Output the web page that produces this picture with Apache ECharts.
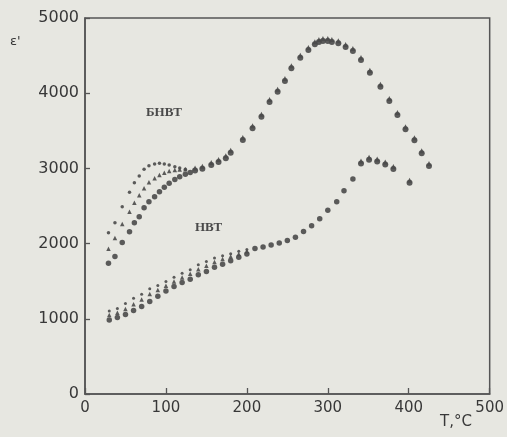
<!DOCTYPE html>
<html>
<head>
<meta charset="utf-8">
<script src="https://cdn.jsdelivr.net/npm/echarts@6/dist/echarts.min.js"></script>
<style>
html,body{margin:0;padding:0;background:#e7e7e1;}
#c{width:507px;height:437px;}
</style>
</head>
<body>
<div id="c"></div>
<script>
// Axis ticks
const xTicks = [0, 100, 200, 300, 400, 500];
const yTicks = [0, 1000, 2000, 3000, 4000, 5000];

// БНВТ branch (upper), three frequencies before merging
const bnvtTopT = [29, 37, 46, 55, 61, 67, 73, 79, 86, 92, 98, 104, 111, 117, 124];
const bnvtTopV = [2145, 2278, 2491, 2682, 2810, 2899, 2988, 3036, 3059, 3068, 3059, 3045, 3023, 3005, 2990];
const bnvtMidT = [29, 37, 46, 55, 61, 67, 73, 79, 86, 92, 98, 104, 111, 117, 124];
const bnvtMidV = [1930, 2075, 2261, 2424, 2544, 2642, 2735, 2815, 2868, 2912, 2943, 2965, 2979, 2986, 2990];
const bnvtLowT = [29, 37, 46, 55, 61, 67, 73, 79, 86, 92, 98, 104, 111, 117, 124, 130];
const bnvtLowV = [1738, 1830, 2015, 2158, 2278, 2358, 2477, 2557, 2624, 2690, 2748, 2801, 2854, 2890, 2921, 2945];
// БНВТ merged
const bnvtMergT = [136, 145, 156, 165, 174, 180, 195, 207, 218, 228, 238, 247, 255, 266, 276, 284, 289, 294, 300, 305, 313, 322, 331, 341, 352, 365, 376, 386, 396, 407, 416, 425];
const bnvtMergV = [2985, 3009, 3060, 3098, 3147, 3222, 3391, 3546, 3701, 3896, 4033, 4176, 4344, 4485, 4588, 4663, 4694, 4707, 4707, 4694, 4677, 4628, 4574, 4455, 4286, 4100, 3910, 3723, 3533, 3387, 3214, 3045];

// НВТ branch (lower), three frequencies before merging
const nvtT = [30, 40, 50, 60, 70, 80, 90, 100, 110, 120, 130, 140, 150, 160, 170, 180, 190, 200];
const nvtTopV = [1103, 1138, 1205, 1272, 1325, 1398, 1442, 1495, 1553, 1606, 1652, 1719, 1763, 1807, 1839, 1866, 1897, 1920];
const nvtMidV = [1050, 1080, 1130, 1195, 1258, 1330, 1384, 1438, 1495, 1549, 1598, 1660, 1705, 1754, 1794, 1830, 1861, 1897];
const nvtLowV = [983, 1017, 1058, 1110, 1165, 1230, 1300, 1371, 1428, 1482, 1526, 1585, 1629, 1687, 1727, 1772, 1817, 1861];
// НВТ merged
const nvtMergT = [210, 220, 230, 240, 250, 260, 270, 280, 290, 300, 311, 320, 331];
const nvtMergV = [1935, 1955, 1980, 2008, 2040, 2084, 2160, 2238, 2331, 2443, 2557, 2703, 2860];
const nvtPeakT = [341, 351, 361, 371, 381, 401];
const nvtPeakV = [3080, 3128, 3105, 3065, 3005, 2823];

const pts = (t, v) => t.map((x, i) => [x, v[i]]);
const mk = '#4a4a4a';

function sc(t, v, symbol, size, offset) {
  return {
    type: 'scatter', data: pts(t, v), symbol: symbol, symbolSize: size,
    symbolOffset: offset || [0, 0],
    itemStyle: { color: mk, opacity: 0.9 }, silent: true, z: 3
  };
}

const chart = echarts.init(document.getElementById('c'), null, { renderer: 'canvas' });
const axisText = { fontFamily: 'DejaVu Sans', fontSize: 15, color: '#383838', formatter: (v) => String(v) };
chart.setOption({
  backgroundColor: '#e7e7e1',
  animation: false,
  grid: { left: 85, right: 17, top: 18, bottom: 43, show: true, borderColor: '#555', borderWidth: 1.5, backgroundColor: 'transparent' },
  xAxis: {
    type: 'value', min: xTicks[0], max: xTicks[xTicks.length - 1], interval: 100,
    axisLine: { show: true, lineStyle: { color: '#555', width: 1.5 } },
    axisTick: { show: true, inside: true, length: 6, lineStyle: { color: '#555', width: 1.3 } },
    axisLabel: Object.assign({ margin: 7 }, axisText),
    splitLine: { show: false }
  },
  yAxis: {
    type: 'value', min: yTicks[0], max: yTicks[yTicks.length - 1], interval: 1000,
    axisLine: { show: true, lineStyle: { color: '#555', width: 1.5 } },
    axisTick: { show: true, inside: true, length: 5, lineStyle: { color: '#555', width: 1.3 } },
    axisLabel: Object.assign({ margin: 6 }, axisText, { fontSize: 16 }),
    splitLine: { show: false }
  },
  graphic: [
    { type: 'text', left: 10, top: 35, style: { text: "ε'", font: '13px "DejaVu Sans"', fill: '#383838' } },
    { type: 'text', left: 440, top: 415, style: { text: 'T,°C', font: '15px "DejaVu Sans"', fill: '#383838' } },
    { type: 'text', left: 146, top: 106, style: { text: 'БНВТ', font: 'bold 13px "Liberation Serif"', fill: '#4a4a4a' } },
    { type: 'text', left: 195, top: 221, style: { text: 'НВТ', font: 'bold 13px "Liberation Serif"', fill: '#4a4a4a' } }
  ],
  series: [
    sc(bnvtTopT, bnvtTopV, 'circle', 3.5),
    sc(bnvtMidT, bnvtMidV, 'triangle', 4.5),
    sc(bnvtLowT, bnvtLowV, 'circle', 5.5),
    sc(bnvtMergT, bnvtMergV, 'circle', 6, [0, 1]),
    sc(bnvtMergT, bnvtMergV, 'triangle', 5, [0, -1.5]),
    sc(nvtT, nvtTopV, 'circle', 3),
    sc(nvtT, nvtMidV, 'triangle', 4.5),
    sc(nvtT, nvtLowV, 'circle', 5.5),
    sc(nvtMergT, nvtMergV, 'circle', 5.5),
    sc(nvtPeakT, nvtPeakV, 'circle', 6, [0, 1]),
    sc(nvtPeakT, nvtPeakV, 'triangle', 5, [0, -1.5])
  ]
});
</script>
</body>
</html>
